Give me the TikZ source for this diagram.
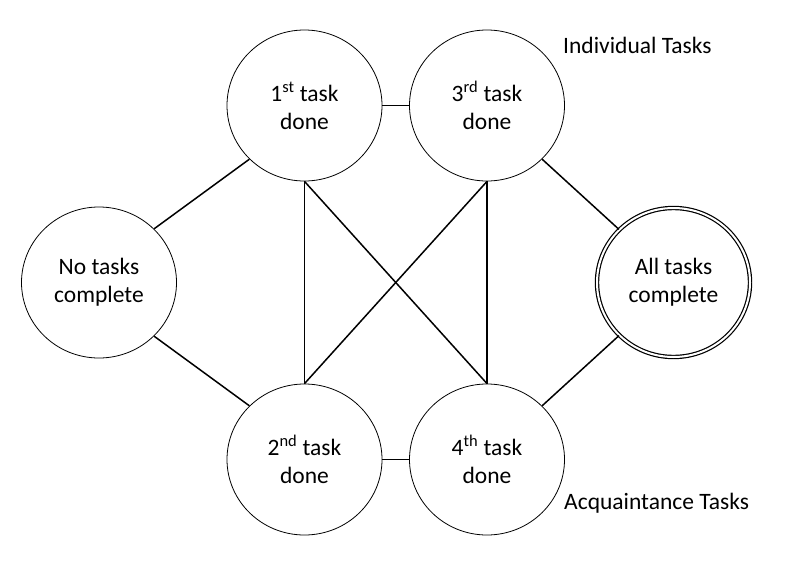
\documentclass[tikz,border=0pt]{standalone}
\usepackage{fontspec}
\setmainfont{Carlito}
\usetikzlibrary{positioning,shapes.geometric}
\tikzset{
    x=1pt,
    y=-1pt,
    state/.style = {
        draw,
        shape=ellipse,
        minimum width=155pt,
        minimum height=151pt,
        inner sep=0pt,
        line width=0.8pt,
        align=center,
        font=\fontsize{23.5}{28}\selectfont
    },
    final/.style = {
        state,
        double,
        line width=1.2pt,
        double distance=2pt,
        minimum width=153pt,
        minimum height=149pt
    },
    edge/.style = {
        draw,
        line width=1.5pt
    },
    caption/.style = {
        anchor=west,
        inner sep=0pt,
        font=\fontsize{23.5}{28}\selectfont
    },
}
\begin{document}
\begin{tikzpicture}
            \useasboundingbox (0,0) rectangle (795,570);

            \node[state] (notasks) at (99,282.5) {No tasks\\complete};
            \node[state] (first) at (304.5,105.5) {1\textsuperscript{st} task\\done};
            \node[state] (third) at (487,105.5) {3\textsuperscript{rd} task\\done};
            \node[state] (second) at (304.5,459.5) {2\textsuperscript{nd} task\\done};
            \node[state] (fourth) at (487,459.5) {4\textsuperscript{th} task\\done};
            \node[final] (alltasks) at (673.5,282.5) {All tasks\\complete};

            \node[caption] (individual) at (563,45) {Individual Tasks};
            \node[caption] (acquaintance) at (564,503) {Acquaintance Tasks};

            \path[edge] (first.east) -- (third.west);
            \path[edge] (second.east) -- (fourth.west);

            \path[edge] (first.south west) -- (notasks.north east);
            \path[edge] (notasks.south east) -- (second.north west);
            \path[edge] (third.south east) -- (alltasks.north west);
            \path[edge] (fourth.north east) -- (alltasks.south west);

            \path[edge] (first.south) -- (second.north);
            \path[edge] (first.south) -- (fourth.north);
            \path[edge] (third.south) -- (second.north);
            \path[edge] (third.south) -- (fourth.north);

        \end{tikzpicture}
\end{document}
